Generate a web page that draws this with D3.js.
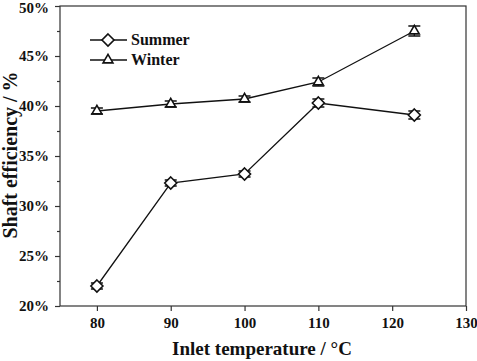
<!DOCTYPE html>
<html><head><meta charset="utf-8">
<script src="https://cdn.jsdelivr.net/npm/d3@7"></script>
<style>body{margin:0;background:#fff}svg{display:block}</style>
</head><body>
<svg id="c" width="477" height="361"></svg>
<script>
const temps = [80, 90, 100, 110, 123];
const summer = [22.0, 32.3, 33.2, 40.3, 39.1];
const summerErr = [0.3, 0.3, 0.3, 0.4, 0.4];
const winter = [39.5, 40.2, 40.7, 42.4, 47.5];
const winterErr = [0.3, 0.3, 0.3, 0.4, 0.5];
const xTicks = [80, 90, 100, 110, 120, 130];
const yTicks = [20, 25, 30, 35, 40, 45, 50];
const yMinor = [22.5, 27.5, 32.5, 37.5, 42.5, 47.5];

const svg = d3.select('#c');
const L = 60, R = 466, T = 6, B = 306;
const x = d3.scaleLinear().domain([75, 130]).range([L, R]);
const y = d3.scaleLinear().domain([20, 50]).range([B, T]);
const font = '"Liberation Serif","Times New Roman",serif';
const col = '#111';

// frame
svg.append('rect').attr('x', L).attr('y', T).attr('width', R - L).attr('height', B - T)
  .attr('fill', 'none').attr('stroke', '#333').attr('stroke-width', 1.2);

// x axis
const xa = svg.append('g').attr('transform', `translate(0,${B})`)
  .call(d3.axisBottom(x).tickValues(xTicks).tickSize(5).tickPadding(6).tickFormat(d3.format('d')));
xa.select('.domain').remove();
xa.selectAll('line').attr('stroke', '#333').attr('stroke-width', 1.2);
xa.selectAll('text').attr('font-family', font).attr('font-weight', 'bold').attr('font-size', 15).attr('fill', col);

// y axis
const ya = svg.append('g').attr('transform', `translate(${L},0)`)
  .call(d3.axisLeft(y).tickValues(yTicks).tickSize(5).tickPadding(6).tickFormat(d => d + '%'));
ya.select('.domain').remove();
ya.selectAll('line').attr('stroke', '#333').attr('stroke-width', 1.2);
ya.selectAll('text').attr('font-family', font).attr('font-weight', 'bold').attr('font-size', 15).attr('fill', col)
  .attr('dy', d => d === 50 ? '0.45em' : '0.32em');
const ym = svg.append('g').attr('transform', `translate(${L},0)`)
  .call(d3.axisLeft(y).tickValues(yMinor).tickSize(3).tickFormat(''));
ym.select('.domain').remove();
ym.selectAll('line').attr('stroke', '#333').attr('stroke-width', 1.2);

// titles
svg.append('text').attr('x', 262).attr('y', 355).attr('text-anchor', 'middle')
  .attr('font-family', font).attr('font-weight', 'bold').attr('font-size', 19).attr('fill', col)
  .text('Inlet temperature / °C');
svg.append('text').attr('transform', `translate(17,155) rotate(-90)`).attr('text-anchor', 'middle')
  .attr('font-family', font).attr('font-weight', 'bold').attr('font-size', 20).attr('fill', col)
  .text('Shaft efficiency / %');

const line = d3.line().x(d => x(d[0])).y(d => y(d[1]));
const tri = d3.symbol().type(d3.symbolTriangle2).size(70);
function diamondSym() { return 'M0,-6L6,0L0,6L-6,0Z'; }

function series(vals, errs, sym) {
  const pts = temps.map((t, i) => [t, vals[i]]);
  svg.append('path').attr('d', line(pts)).attr('fill', 'none').attr('stroke', col).attr('stroke-width', 1.3);
  const g = svg.append('g');
  pts.forEach((p, i) => {
    const cx = x(p[0]), y1 = y(p[1] + errs[i]), y2 = y(p[1] - errs[i]);
    g.append('line').attr('x1', cx).attr('x2', cx).attr('y1', y1).attr('y2', y2).attr('stroke', col).attr('stroke-width', 1.3);
    [y1, y2].forEach(yy => g.append('line').attr('x1', cx - 6).attr('x2', cx + 6).attr('y1', yy).attr('y2', yy).attr('stroke', col).attr('stroke-width', 1.5));
    g.append('path').attr('d', sym()).attr('transform', `translate(${cx},${y(p[1])})`)
      .attr('fill', '#fff').attr('stroke', col).attr('stroke-width', 1.6);
  });
}
series(summer, summerErr, diamondSym);
series(winter, winterErr, () => tri());

// legend
const legend = [['Summer', diamondSym, 40], ['Winter', () => tri(), 60]];
legend.forEach(([name, sym, ly]) => {
  svg.append('line').attr('x1', 90).attr('x2', 127).attr('y1', ly).attr('y2', ly).attr('stroke', col).attr('stroke-width', 1.3);
  svg.append('path').attr('d', sym()).attr('transform', `translate(108,${ly})`).attr('fill', '#fff').attr('stroke', col).attr('stroke-width', 1.6);
  svg.append('text').attr('x', 131).attr('y', ly + 5).attr('font-family', font).attr('font-weight', 'bold')
    .attr('font-size', 16).attr('fill', col).text(name);
});
</script>
</body></html>
